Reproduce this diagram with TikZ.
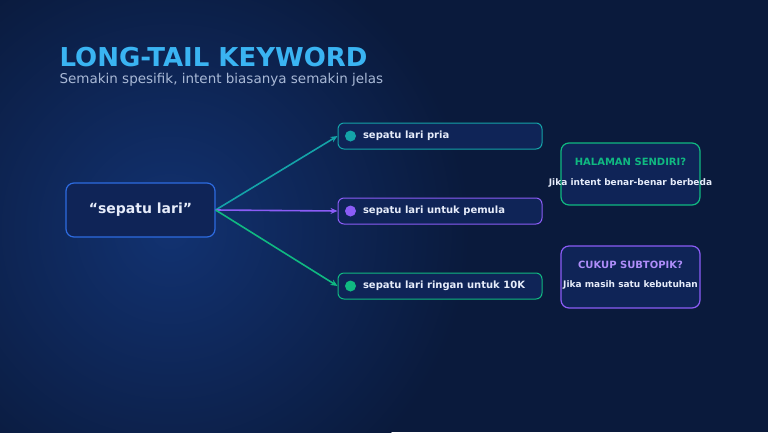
\documentclass[tikz,border=0pt]{standalone}
\usepackage{fontspec}
\setmainfont{DejaVu Sans}
\usepackage{xcolor}
\definecolor{kwbg}{HTML}{0A1A3C}
\definecolor{kwglow}{HTML}{123271}
\definecolor{kwtitle}{HTML}{3AB4F2}
\definecolor{kwsub}{HTML}{A9B9D6}
\definecolor{kwfill}{HTML}{0F2457}
\definecolor{kwblue}{HTML}{2D6BE0}
\definecolor{kwteal}{HTML}{14A3A8}
\definecolor{kwpurple}{HTML}{8B5CF6}
\definecolor{kwgreen}{HTML}{10B981}
\definecolor{kwtext}{HTML}{E6ECFA}
\usetikzlibrary{arrows.meta,positioning,calc}

\begin{document}
\begin{tikzpicture}[x=1pt, y=-1pt,
  kwbox/.style={draw=kwblue, line width=1.2pt, fill=kwfill, rounded corners=8pt, minimum width=149pt, minimum height=54pt, text=kwtext, font=\bfseries\fontsize{14}{16}\selectfont},
  optbox/.style={line width=1pt, fill=kwfill, rounded corners=6pt, minimum width=204pt, minimum height=26pt},
  optdot/.style={circle, inner sep=0pt, minimum size=11pt},
  optlabel/.style={anchor=west, text=kwtext, font=\bfseries\fontsize{10}{12}\selectfont},
  notebox/.style={line width=1.2pt, fill=kwfill, rounded corners=8pt, minimum width=139pt, minimum height=62pt},
  notehead/.style={font=\bfseries\fontsize{10}{12}\selectfont},
  notetext/.style={text=kwtext, font=\bfseries\fontsize{9}{11}\selectfont},
  arr/.style={line width=1.6pt, -{Stealth[length=7pt,width=6pt]}}]
% Background
\useasboundingbox (0,0) rectangle (768,432);
\fill[kwbg] (0,0) rectangle (768,432);
\begin{scope}
\clip (0,0) rectangle (768,432);
\shade[inner color=kwglow, outer color=kwbg] (170,230) circle (300);
\end{scope}
% Title
\node[anchor=west, text=kwtitle, font=\bfseries\fontsize{26}{29}\selectfont] (title) at (56,57) {LONG-TAIL KEYWORD};
\node[anchor=west, text=kwsub, font=\fontsize{13.5}{16}\selectfont] (subtitle) at (56,80) {Semakin spesifik, intent biasanya semakin jelas};
% Keyword
\node[kwbox] (kw) at (140.5,210) {“sepatu lari”};
% Long-tail variants
\node[optbox, draw=kwteal] (pria) at (440,136) {};
\node[optbox, draw=kwpurple] (pemula) at (440,211) {};
\node[optbox, draw=kwgreen] (ringan) at (440,286) {};
\node[optdot, fill=kwteal] (dpria) at ($(pria.west)+(13,0)$) {};
\node[optdot, fill=kwpurple] (dpemula) at ($(pemula.west)+(13,0)$) {};
\node[optdot, fill=kwgreen] (dringan) at ($(ringan.west)+(13,0)$) {};
\node[optlabel] (lpria) at ($(pria.west)+(22,0)$) {sepatu lari pria};
\node[optlabel] (lpemula) at ($(pemula.west)+(22,0)$) {sepatu lari untuk pemula};
\node[optlabel] (lringan) at ($(ringan.west)+(22,0)$) {sepatu lari ringan untuk 10K};
% Arrows
\draw[arr, kwteal] (kw.east) -- (pria.west);
\draw[arr, kwpurple] (kw.east) -- (pemula.west);
\draw[arr, kwgreen] (kw.east) -- (ringan.west);
% Notes
\node[notebox, draw=kwgreen] (own) at (630.5,174) {};
\node[notehead, text=kwgreen] (ownhead) at (630.5,162) {HALAMAN SENDIRI?};
\node[notetext] (owntext) at (630.5,183) {Jika intent benar-benar berbeda};
\node[notebox, draw=kwpurple] (sub) at (630.5,277) {};
\node[notehead, text=kwpurple!70!white] (subhead) at (630.5,265) {CUKUP SUBTOPIK?};
\node[notetext] (subtext) at (630.5,285) {Jika masih satu kebutuhan};
\end{tikzpicture}
\end{document}
